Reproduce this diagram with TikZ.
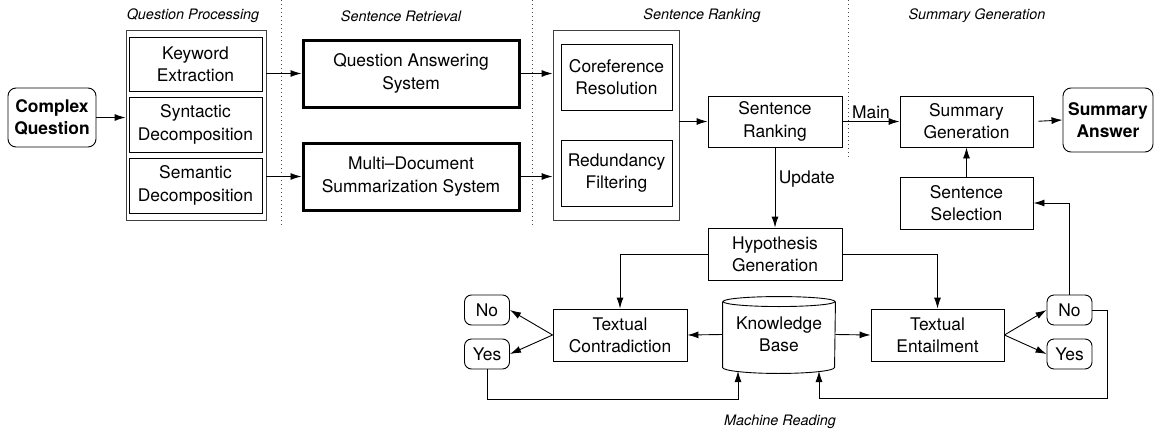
\documentclass[tikz,border=0pt]{standalone}
\usepackage{fontspec}
\setmainfont{TeX Gyre Heros}
\usetikzlibrary{arrows.meta}

\newcommand{\diagfont}{\fontsize{17.4}{22.3}\selectfont}
\newcommand{\headfont}{\fontsize{14.4}{17}\selectfont\itshape}

\begin{document}
\begin{tikzpicture}[x=1pt, y=-1pt, font=\diagfont, line width=0.9pt,
    >={Latex[length=11pt,width=7pt]},
    box/.style 2 args={draw, align=center, inner sep=0pt, minimum width=#1, minimum height=#2},
    thickbox/.style={line width=3pt},
    answer/.style={rounded corners=8pt, font=\diagfont\bfseries},
    choice/.style={draw, rounded corners=7pt, inner sep=0pt, minimum width=45, minimum height=30},
    stage/.style={font=\headfont},
    sep/.style={black!70, dash pattern=on 1pt off 3pt}]
  \useasboundingbox (0,0) rectangle (1157,434);

  % stage separators and headings
  \draw[sep] (281,0) -- (281,228);
  \draw[sep] (532,0) -- (532,228);
  \draw[sep] (848,0) -- (848,160);
  \node[stage] (hqp) at (193,16) {Question Processing};
  \node[stage] (hsr) at (401,16) {Sentence Retrieval};
  \node[stage] (hrk) at (702,16) {Sentence Ranking};
  \node[stage] (hsg) at (977,16) {Summary Generation};
  \node[stage] (hmr) at (780,422) {Machine Reading};

  % question processing
  \node[box={88}{59}, answer] (cq) at (52,117.5) {Complex\\Question};
  \node[box={140}{190}, draw=black!75] (qp) at (196,125) {};
  \node[box={133}{54}] (kw) at (195.5,64) {Keyword\\Extraction};
  \node[box={133}{55}] (syn) at (195.5,124.5) {Syntactic\\Decomposition};
  \node[box={133}{55}] (sem) at (195.5,185.5) {Semantic\\Decomposition};

  % retrieval
  \node[box={216}{67}, thickbox] (qa) at (411,73.5) {Question Answering\\System};
  \node[box={216}{67}, thickbox] (mds) at (411,176.5) {Multi--Document\\Summarization System};

  % ranking
  \node[box={126}{190}, draw=black!75] (sr) at (616,125) {};
  \node[box={111}{66}] (coref) at (616.5,77) {Coreference\\Resolution};
  \node[box={111}{66}] (red) at (616.5,173) {Redundancy\\Filtering};
  \node[box={134}{51}] (rank) at (775,121.5) {Sentence\\Ranking};

  % summary
  \node[box={133}{51}] (sg) at (966.5,121.5) {Summary\\Generation};
  \node[box={90}{64}, answer] (ans) at (1108,120) {Summary\\Answer};
  \node[box={133}{52}] (sel) at (966.5,203) {Sentence\\Selection};

  % machine reading
  \node[box={134}{52}] (hyp) at (775,254) {Hypothesis\\Generation};
  \node[box={134}{52}] (tc) at (620,335) {Textual\\Contradiction};
  \node[box={133}{52}] (te) at (937.5,335) {Textual\\Entailment};
  \node[align=center, inner sep=0pt, minimum width=112, minimum height=65] (kb) at (779,334.5) {Knowledge\\Base};
  \draw (kb.north west) -- (kb.south west) arc[start angle=180, end angle=360, x radius=56pt, y radius=6pt] -- (kb.north east);
  \draw (kb.north) ellipse[x radius=56pt, y radius=5pt];
  \node[choice] (lno) at (487,310) {No};
  \node[choice] (lyes) at (487,354) {Yes};
  \node[choice] (rno) at (1069.5,310) {No};
  \node[choice] (ryes) at (1069.5,354) {Yes};
  \coordinate (kbinl) at (738,371);
  \coordinate (kbinr) at (819,371);

  % connectors
  \draw[->] (cq.east) -- (cq -| qp.west);
  \draw[->] (qp.east |- qa) -- (qa.west);
  \draw[->] (qp.east |- mds) -- (mds.west);
  \draw[->] (qa.east) -- (qa -| sr.west);
  \draw[->] (mds.east) -- (mds -| sr.west);
  \draw[->] (sr.east |- rank) -- (rank.west);
  \draw[->] (rank.east) -- (sg.west) node[midway, above, inner sep=2pt] {Main};
  \draw[->, shorten <=5pt] (sg.east) -- (ans.west);
  \draw[->] (sel.north) -- (sg.south);
  \draw[->] (rank.south) -- (hyp.north) node[pos=0.4, right] {Update};
  \draw[->] (hyp.west) -| (tc.north);
  \draw[->] (hyp.east) -| (te.north);
  \draw[->] (kb.west) -- (tc.east);
  \draw[->] (kb.east) -- (te.west);
  \draw[->] (tc.west) -- (lno.east);
  \draw[->] (tc.west) -- (lyes.east);
  \draw[->] (te.east) -- (rno.west);
  \draw[->] (te.east) -- (ryes.west);
  \draw[->] (lyes.south) -- ++(0,30) -| (kbinl);
  \draw[->] (rno.east) -- ++(15,0) -- ++(0,88) -| (kbinr);
  \draw[->] (rno.north) |- (sel.east);
\end{tikzpicture}
\end{document}
